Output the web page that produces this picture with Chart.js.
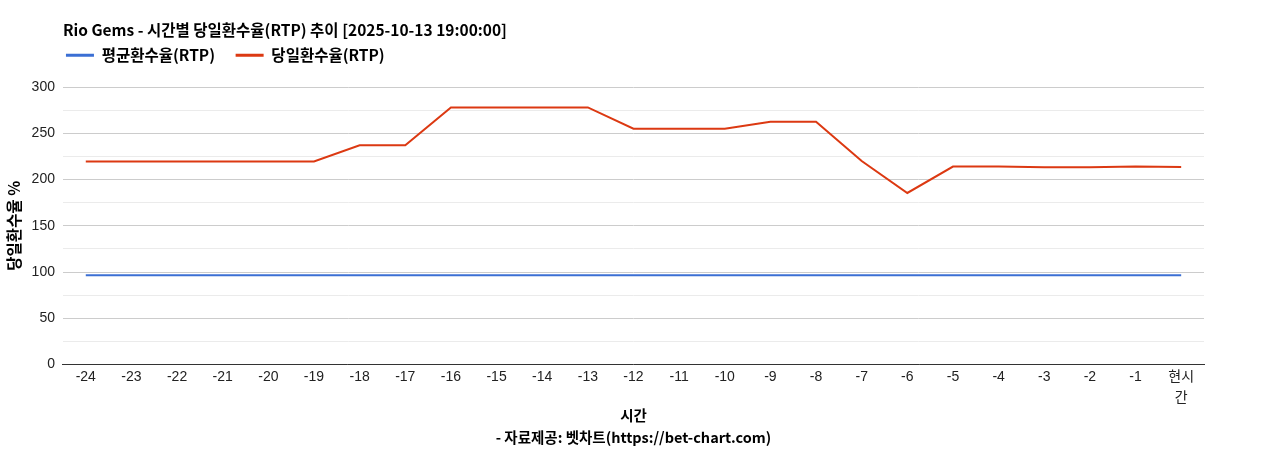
<!DOCTYPE html>
<html><head><meta charset="utf-8">
<script src="https://cdn.jsdelivr.net/npm/chart.js@4/dist/chart.umd.min.js"></script>
<style>html,body{margin:0;padding:0;background:#fff}#wrap{width:1268px;height:450px}</style>
</head><body><div id="wrap"><canvas id="c" width="1268" height="450"></canvas></div>
<script>
const categories = ['-24','-23','-22','-21','-20','-19','-18','-17','-16','-15','-14','-13','-12','-11','-10','-9','-8','-7','-6','-5','-4','-3','-2','-1',['현시','간']];
const avgRtp = [96.5,96.5,96.5,96.5,96.5,96.5,96.5,96.5,96.5,96.5,96.5,96.5,96.5,96.5,96.5,96.5,96.5,96.5,96.5,96.5,96.5,96.5,96.5,96.5,96.5];
const dayRtp = [219.5,219.5,219.5,219.5,219.5,219.5,237,237,278,278,278,278,255,255,255,262.5,262.5,220,185.5,214,214,213.2,213.2,214,213.5];
const titleText = 'Rio Gems - 시간별 당일환수율(RTP) 추이 [2025-10-13 19:00:00]';
const FONT = '"Liberation Sans", Arial, "Noto Sans CJK KR", sans-serif';
const BFONT = '"Noto Sans CJK KR", "Noto Sans", sans-serif';
const legendGap = {
  id: 'legendGap',
  beforeInit(chart) {
    const lg = chart.legend;
    if (!lg) return;
    const origFit = lg.fit;
    lg.fit = function () { origFit.call(this); this.height += 14; };
  }
};
new Chart(document.getElementById('c'), {
  type: 'line',
  data: {
    labels: categories,
    datasets: [
      {label: '평균환수율(RTP)', data: avgRtp, borderColor: '#3b6fd4', backgroundColor: '#3b6fd4', borderWidth: 2, pointRadius: 0, tension: 0},
      {label: '당일환수율(RTP)', data: dayRtp, borderColor: '#dc3912', backgroundColor: '#dc3912', borderWidth: 2, pointRadius: 0, tension: 0}
    ]
  },
  plugins: [legendGap],
  options: {
    responsive: false,
    animation: false,
    layout: {padding: {left: 0, right: 64, top: 13, bottom: 1}},
    plugins: {
      title: {display: true, text: titleText, align: 'start', fullSize: false, color: '#000',
        font: {family: BFONT, size: 15.5, weight: 'bold'}, padding: {top: 8, bottom: 5}},
      legend: {display: true, align: 'start', fullSize: false,
        labels: {boxWidth: 28, boxHeight: 3, color: '#000', padding: 3, font: {family: BFONT, size: 15.5, weight: 'bold'},
          generateLabels: chart => Chart.defaults.plugins.legend.labels.generateLabels(chart).map(l => Object.assign(l, {text: l.text + '     ', lineWidth: 0}))}},
      tooltip: {enabled: false}
    },
    scales: {
      x: {
        offset: true,
        grid: {display: false, drawTicks: false},
        border: {color: '#333', width: 1},
        ticks: {color: '#222', font: {family: FONT, size: 14, lineHeight: 1.45}, maxRotation: 0, autoSkip: false, padding: 3},
        title: {display: true, text: ['시간', '- 자료제공: 벳차트(https://bet-chart.com)'], color: '#000',
          font: {family: BFONT, size: 14.5, lineHeight: 1.55, weight: 'bold'}, padding: {top: -7, bottom: 0}}
      },
      y: {
        min: 0, max: 300,
        border: {display: false},
        grid: {drawTicks: false, color: ctx => (ctx.tick && ctx.tick.value % 50 === 0) ? '#cccccc' : '#ebebeb'},
        ticks: {stepSize: 25, color: '#222', font: {family: FONT, size: 14}, padding: 8,
          callback: v => (v % 50 === 0 ? v : '')},
        title: {display: true, text: '당일환수율 %', color: '#000', font: {family: BFONT, size: 15.5, weight: 'bold'}, padding: {top: 5, bottom: 0}}
      }
    }
  }
});
</script></body></html>
